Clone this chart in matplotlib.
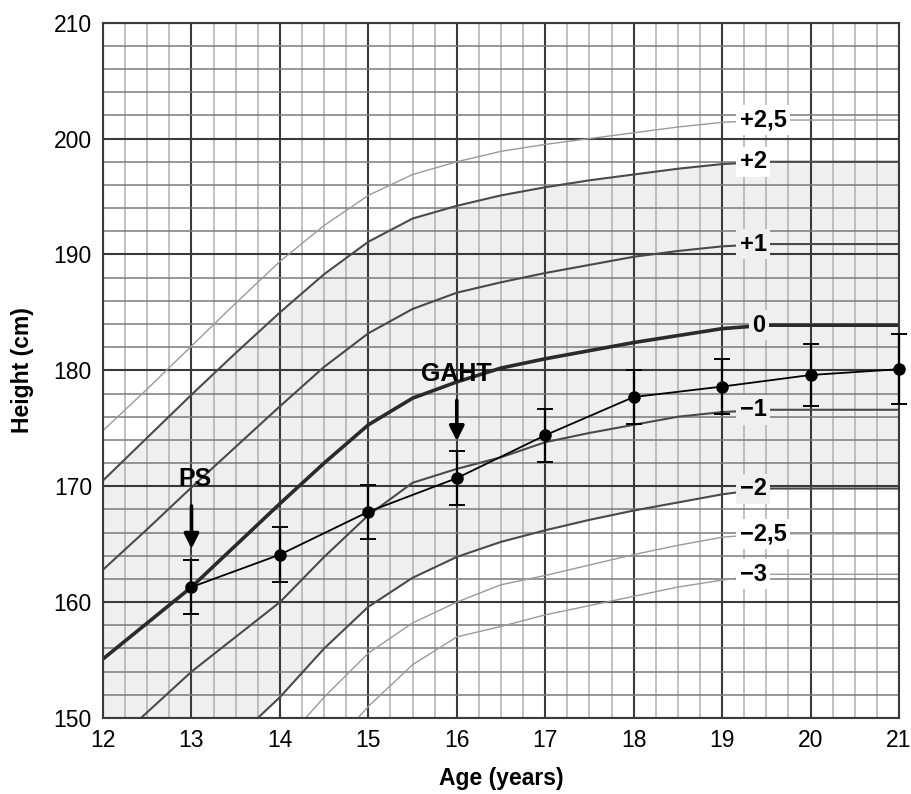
import numpy as np
import matplotlib
matplotlib.use("Agg")
import matplotlib.pyplot as plt

plt.rcParams["font.family"] = ["Liberation Sans", "DejaVu Sans"]

# reference curves (SD scores)
ages = [12, 12.5, 13, 13.5, 14, 14.5, 15, 15.5, 16, 16.5, 17, 17.5, 18, 18.5, 19, 19.5, 21]
sd_p25 = [174.8, 178.4, 182.1, 185.8, 189.4, 192.5, 195.1, 196.9, 198.0, 198.9, 199.5, 200.0, 200.5, 201.0, 201.4, 201.6, 201.6]
sd_p2 = [170.5, 174.2, 177.9, 181.5, 185.0, 188.3, 191.1, 193.1, 194.2, 195.1, 195.8, 196.4, 196.9, 197.4, 197.8, 198.0, 198.0]
sd_p1 = [162.8, 166.3, 169.9, 173.4, 176.9, 180.3, 183.2, 185.3, 186.7, 187.6, 188.4, 189.1, 189.8, 190.3, 190.7, 190.9, 190.9]
sd_0 = [155.1, 158.2, 161.3, 164.9, 168.5, 172.0, 175.3, 177.6, 179.0, 180.2, 181.0, 181.7, 182.4, 183.0, 183.6, 183.9, 183.9]
sd_m1 = [147.0, 150.5, 154.0, 157.0, 160.0, 163.9, 167.5, 170.3, 171.5, 172.5, 173.8, 174.6, 175.3, 176.0, 176.4, 176.6, 176.6]
sd_m2 = [138.5, 141.5, 144.8, 148.2, 151.8, 156.0, 159.6, 162.1, 163.9, 165.2, 166.2, 167.1, 167.9, 168.6, 169.3, 169.8, 169.8]
sd_m25 = [134.0, 137.5, 141.0, 144.3, 147.5, 151.8, 155.6, 158.2, 160.0, 161.5, 162.3, 163.2, 164.1, 164.9, 165.6, 165.9, 165.9]
sd_m3 = [130.0, 133.5, 137.0, 140.3, 143.5, 146.8, 151.0, 154.6, 157.0, 157.9, 158.9, 159.7, 160.5, 161.3, 161.9, 162.4, 162.4]

# patient measurements
pt_age = [13, 14, 15, 16, 17, 18, 19, 20, 21]
pt_height = [161.3, 164.1, 167.8, 170.7, 174.4, 177.7, 178.6, 179.6, 180.1]
pt_err = [2.3, 2.35, 2.35, 2.3, 2.3, 2.3, 2.4, 2.65, 3.0]

sd_labels = ["+2,5", "+2", "+1", "0", "\u22121", "\u22122", "\u22122,5", "\u22123"]

fig = plt.figure(figsize=(9.12, 7.94), dpi=100)
ax = fig.add_axes([0.113, 0.0957, 0.8727, 0.8757])

shade = "#efefef"
ax.fill_between(ages, sd_m2, sd_p2, color=shade, lw=0, zorder=0.2)

curves = [sd_p25, sd_p2, sd_p1, sd_0, sd_m1, sd_m2, sd_m25, sd_m3]
styles = [("#9a9a9a", 1.0), ("#4a4a4a", 1.5), ("#4a4a4a", 1.5), ("#2a2a2a", 2.6),
          ("#4a4a4a", 1.5), ("#4a4a4a", 1.5), ("#9a9a9a", 1.0), ("#9a9a9a", 1.0)]
for vals, (col, lw) in zip(curves, styles):
    ax.plot(ages, vals, color=col, lw=lw, zorder=2)

# SD labels on the right
lab_bg = ["white", "white", shade, shade, shade, shade, "white", "white"]
for lab, vals, bg in zip(sd_labels, curves, lab_bg):
    xpos = 19.34 if lab == "0" else 19.2
    ax.text(xpos, vals[-1], lab, ha="left", va="center", fontsize=17,
            fontweight="bold", zorder=4,
            bbox=dict(facecolor=bg, edgecolor="none", pad=2.5))

ax.errorbar(pt_age, pt_height, yerr=pt_err, color="black", lw=1.3,
            marker="o", ms=8, capsize=6, elinewidth=1.6, capthick=1.4,
            zorder=5, clip_on=False)

# annotations
ax.annotate("", xy=(13, 164.6), xytext=(13, 168.3),
            arrowprops=dict(arrowstyle="-|>", lw=2.6, color="black",
                            mutation_scale=22, shrinkA=0, shrinkB=0), zorder=6)
ax.text(13.04, 170.6, "PS", ha="center", va="center", fontsize=18,
        fontweight="bold", zorder=6)
ax.annotate("", xy=(16, 173.9), xytext=(16, 177.4),
            arrowprops=dict(arrowstyle="-|>", lw=2.6, color="black",
                            mutation_scale=22, shrinkA=0, shrinkB=0), zorder=6)
ax.text(16.0, 179.7, "GAHT", ha="center", va="center", fontsize=18,
        fontweight="bold", zorder=6)

ax.set_xlim(12, 21)
ax.set_ylim(150, 210)
ax.set_xticks(np.arange(12, 22, 1))
ax.set_xticks(np.arange(12, 21.01, 0.25), minor=True)
ax.set_yticks(np.arange(150, 211, 10))
ax.set_yticks(np.arange(150, 210.01, 2), minor=True)
ax.set_axisbelow(True)
ax.grid(which="major", color="#3a3a3a", lw=1.5)
ax.grid(which="minor", axis="y", color="#7a7a7a", lw=1.1)
ax.grid(which="minor", axis="x", color="#b0b0b0", lw=1.1)
ax.tick_params(which="both", length=0, labelsize=16.5, pad=8)
for sp in ax.spines.values():
    sp.set_color("#3a3a3a")
    sp.set_linewidth(1.5)

ax.set_xlabel("Age (years)", fontsize=16.5, fontweight="bold", labelpad=11)
ax.set_ylabel("Height (cm)", fontsize=16.5, fontweight="bold", labelpad=14)

fig.savefig("out.png", dpi=100)
